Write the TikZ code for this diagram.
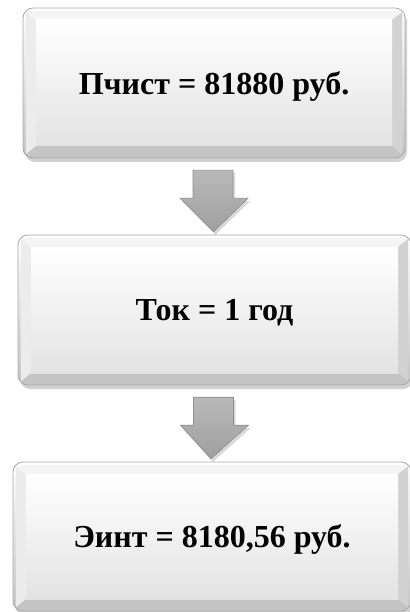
\documentclass[tikz,border=0pt]{standalone}
\usepackage{fontspec}
\setmainfont{Liberation Serif}
\usetikzlibrary{calc}
\definecolor{bevtop}{HTML}{F4F4F4}
\definecolor{bevleft}{HTML}{ECECEC}
\definecolor{bevright}{HTML}{D2D2D2}
\definecolor{bevbot}{HTML}{C4C4C4}
\definecolor{edge}{HTML}{A8A8A8}
\definecolor{arredge}{HTML}{8E8E8E}
\tikzset{
  boxtext/.style={inner sep=0pt, text depth=0pt, font=\fontsize{32}{36}\selectfont\bfseries},
  boxshadow/.style={fill=black, opacity=0.18, rounded corners=10pt},
  boxouter/.style={draw=edge, line width=0.8pt, rounded corners=10pt, top color=white, bottom color=bevbot},
  boxface/.style={top color=white, bottom color=gray!22},
  arrowshape/.style={draw=arredge, line width=0.6pt, top color=gray!55, bottom color=gray!75, line join=miter},
  arrowshadow/.style={fill=black, opacity=0.15}
}
% #1 name, #2 x1, #3 y1, #4 x2, #5 y2, #6 text
\newcommand{\bevbox}[6]{%
  \fill[boxshadow] (#2+2,#3+4) rectangle (#4+2,#5+4);
  \path[boxouter] (#2,#3) rectangle (#4,#5);
  \fill[bevtop] (#2+4,#3+3) -- (#4-4,#3+3) -- (#4-13,#3+12) -- (#2+13,#3+12) -- cycle;
  \fill[bevleft] (#2+3,#3+4) -- (#2+13,#3+12) -- (#2+13,#5-12) -- (#2+3,#5-4) -- cycle;
  \fill[bevright] (#4-3,#3+4) -- (#4-13,#3+12) -- (#4-13,#5-12) -- (#4-3,#5-4) -- cycle;
  \fill[bevbot] (#2+4,#5-3) -- (#2+13,#5-12) -- (#4-13,#5-12) -- (#4-4,#5-3) -- cycle;
  \fill[boxface] (#2+13,#3+12) rectangle (#4-13,#5-12);
  \node[boxtext, minimum width=#4-#2, minimum height=#5-#3] (#1) at ({(#2+#4)/2},{(#3+#5)/2}) {#6};
}
% arrow from bottom of box #1 to top of box #2
\newcommand{\flowarrow}[2]{%
  \fill[arrowshadow]
    ($(#1.south)+(-19,15)$) -- ($(#1.south)+(21,15)$) -- ($(#1.south)+(21,43)$) --
    ($(#1.south)+(36,43)$) -- ($(#2.north)+(1,0)$) --
    ($(#1.south)+(-32,43)$) -- ($(#1.south)+(-19,43)$) -- cycle;
  \path[arrowshape]
    ($(#1.south)+(-21,12)$) -- ($(#1.south)+(19,12)$) -- ($(#1.south)+(19,40)$) --
    ($(#1.south)+(34,40)$) -- ($(#2.north)+(-1,-3)$) --
    ($(#1.south)+(-34,40)$) -- ($(#1.south)+(-21,40)$) -- cycle;
}
\begin{document}
\begin{tikzpicture}[x=1pt,y=-1pt]
\useasboundingbox[fill=white] (0,0) rectangle (409,612);
\bevbox{b1}{23}{8}{405}{158}{Пчист = 81880 руб.}
\bevbox{b2}{18}{235}{411}{385}{Ток = 1 год}
\bevbox{b3}{13}{462}{411}{611}{Эинт = 8180,56 руб.}
\flowarrow{b1}{b2}
\flowarrow{b2}{b3}
\end{tikzpicture}
\end{document}
